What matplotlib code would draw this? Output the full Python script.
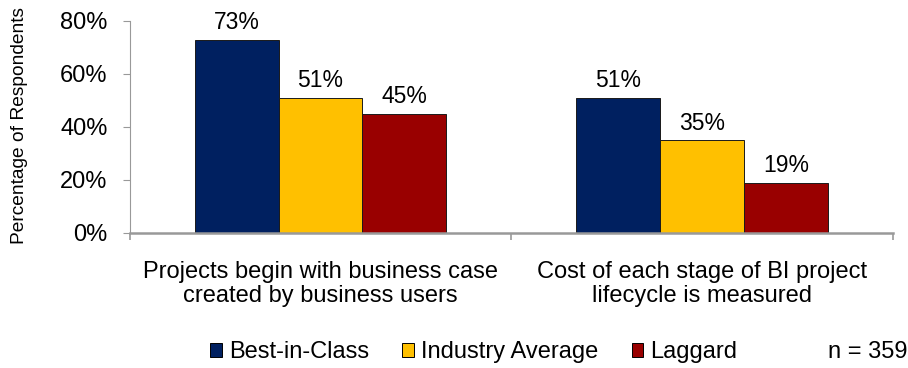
import matplotlib.pyplot as plt
import numpy as np
from matplotlib.patches import Patch

plt.rcParams['font.family'] = ['Liberation Sans', 'DejaVu Sans']

categories = ['Projects begin with business case\ncreated by business users',
              'Cost of each stage of BI project\nlifecycle is measured']
series = ['Best-in-Class', 'Industry Average', 'Laggard']
best = [73, 51]
industry = [51, 35]
laggard = [45, 19]
colors = ['#002060', '#FFC000', '#990000']
yticks = [0, 20, 40, 60, 80]

fig = plt.figure(figsize=(9.08, 3.68), dpi=100)
ax = fig.add_axes([0.143, 0.367, 0.84, 0.576])

x = np.arange(len(categories))
width = 0.22
for i, (vals, c) in enumerate(zip([best, industry, laggard], colors)):
    pos = x + (i - 1) * width
    ax.bar(pos, vals, width, color=c, edgecolor='#1a1a1a', linewidth=0.7, zorder=2)
    for p, v in zip(pos, vals):
        ax.annotate(f'{v}%', (p, v), xytext=(0, 4), textcoords='offset points',
                    ha='center', va='bottom', fontsize=16.5)

ax.set_xlim(-0.5, 1.5)
ax.set_ylim(0, 80)
ax.set_yticks(yticks)
ax.set_yticklabels([f'{t}%' for t in yticks], fontsize=17)
ax.set_xticks([-0.5, 0.5, 1.5])
ax.set_xticklabels([])
ax.tick_params(axis='x', length=5, color='#999999', width=1.2)
ax.tick_params(axis='y', length=5, color='#999999', pad=11)
for i, cat in enumerate(categories):
    ax.annotate(cat, (i, 0), xycoords=('data', 'axes fraction'),
                xytext=(0, -20), textcoords='offset points',
                ha='center', va='top', fontsize=17, linespacing=1.15)

ax.spines['top'].set_visible(False)
ax.spines['right'].set_visible(False)
ax.spines['left'].set_color('#999999')
ax.spines['bottom'].set_color('#999999')
ax.spines['bottom'].set_linewidth(1.8)
ax.spines['bottom'].set_zorder(3)

fig.text(0.021, 0.66, 'Percentage of Respondents', rotation=90,
         ha='center', va='center', fontsize=13.8)

handles = [Patch(facecolor=c, edgecolor='black', linewidth=0.7) for c in colors]
fig.legend(handles, series, loc='center', bbox_to_anchor=(0.522, 0.043),
           ncol=3, frameon=False, fontsize=17, handlelength=0.5,
           handleheight=0.5, handletextpad=0.3, columnspacing=1.4,
           borderpad=0, borderaxespad=0)
fig.text(0.999, 0.043, 'n = 359', ha='right', va='center', fontsize=17)

fig.savefig('out.png')
